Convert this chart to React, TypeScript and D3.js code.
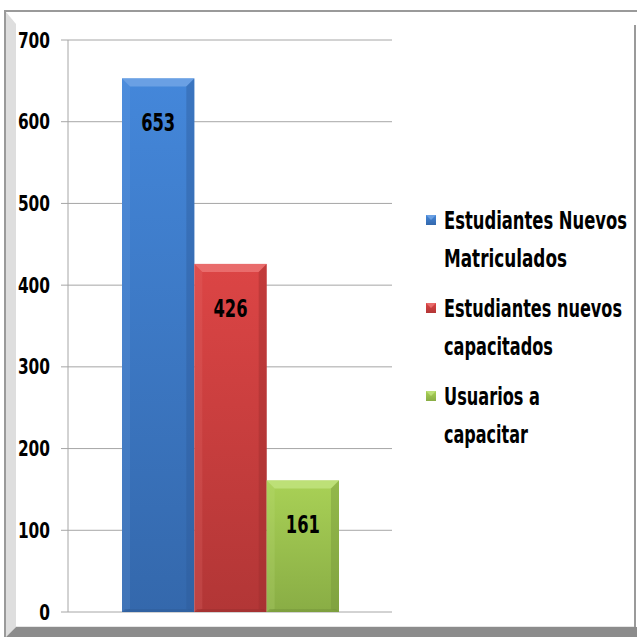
import React from 'react';
import * as d3 from 'd3';

const categories = ['Estudiantes Nuevos Matriculados', 'Estudiantes nuevos capacitados', 'Usuarios a capacitar'];
const values = [653, 426, 161];
const legendLines = [
  ['Estudiantes Nuevos', 'Matriculados'],
  ['Estudiantes nuevos', 'capacitados'],
  ['Usuarios a', 'capacitar'],
];
// widths of the legend lines as measured on the reference
const legendWidths = [
  [183, 123],
  [178, 109],
  [96, 84],
];
const yTicks = [0, 100, 200, 300, 400, 500, 600, 700];
const palette = [
  { top: '#4487da', bottom: '#3468ac', light: '#74a6e6', dark: '#2d5b98' },
  { top: '#dc4545', bottom: '#b23636', light: '#ec7676', dark: '#9a2d2d' },
  { top: '#a9d156', bottom: '#89ad45', light: '#c2e380', dark: '#74933a' },
];

const FONT = "'Liberation Sans Narrow', 'DejaVu Sans Condensed', 'Open Sans', sans-serif";

const App: React.FC = () => {
  const W = 637;
  const H = 637;
  const plot = { left: 68, right: 392, top: 40, bottom: 612 };

  const y = d3.scaleLinear().domain([0, 700]).range([plot.bottom, plot.top]);
  const x = d3.scaleBand<string>()
    .domain(categories)
    .range([122, 339])
    .paddingInner(0)
    .paddingOuter(0);

  const bev = 8;

  return (
    <svg width={W} height={H} style={{ position: 'absolute', left: 0, top: 0, background: '#fff' }}>
      <defs>
        {palette.map((p, i) => (
          <linearGradient key={i} id={`g${i}`} x1="0" y1="0" x2="0" y2="1">
            <stop offset="0%" stopColor={p.top} />
            <stop offset="100%" stopColor={p.bottom} />
          </linearGradient>
        ))}
      </defs>

      {/* frame */}
      <rect x={4} y={10} width={633} height={2} fill="#9a9a9a" />
      <rect x={4} y={10} width={2} height={627} fill="#9a9a9a" />
      <polygon points="6,12 16,24 16,627 6,637" fill="#dedede" />
      <polygon points="6,637 16,627 637,627 637,637" fill="#8c8c8c" />
      <rect x={16} y={626} width={618} height={1} fill="#e6e6e6" />
      <rect x={634} y={25} width={2} height={602} fill="#9a9a9a" />

      {/* gridlines and tick labels */}
      {yTicks.map(t => (
        <g key={t}>
          <line x1={61} x2={plot.right} y1={y(t)} y2={y(t)} stroke="#a6a6a6" strokeWidth={1} />
          <text x={50} y={y(t)} dy="0.36em" textAnchor="end" fontFamily={FONT}
            fontWeight="bold" fontSize={21} fill="#000"
            textLength={String(t).length * 10.7} lengthAdjust="spacingAndGlyphs">{t}</text>
        </g>
      ))}
      <line x1={plot.left} x2={plot.left} y1={plot.top} y2={plot.bottom} stroke="#a6a6a6" />

      {/* bars */}
      {categories.map((c, i) => {
        const x0 = x(c)!;
        const w = x.bandwidth();
        const y0 = y(values[i]);
        const y1 = y(0);
        const p = palette[i];
        return (
          <g key={c}>
            <rect x={x0} y={y0} width={w} height={y1 - y0} fill={`url(#g${i})`} />
            <polygon points={`${x0},${y0} ${x0 + w},${y0} ${x0 + w - bev},${y0 + bev} ${x0 + bev},${y0 + bev}`}
              fill={p.light} opacity={0.8} />
            <polygon points={`${x0},${y0} ${x0 + bev},${y0 + bev} ${x0 + bev},${y1 - 3} ${x0},${y1}`}
              fill={p.light} opacity={0.2} />
            <polygon points={`${x0 + w},${y0} ${x0 + w - bev},${y0 + bev} ${x0 + w - bev},${y1 - 3} ${x0 + w},${y1}`}
              fill={p.dark} opacity={0.4} />
            <polygon points={`${x0},${y1} ${x0 + w},${y1} ${x0 + w - 3},${y1 - 3} ${x0 + 3},${y1 - 3}`}
              fill={p.dark} opacity={0.5} />
            <text x={x0 + w / 2} y={y0 + 53} textAnchor="middle" fontFamily={FONT}
              fontWeight="bold" fontSize={25} fill="#000"
              textLength={34} lengthAdjust="spacingAndGlyphs">{values[i]}</text>
          </g>
        );
      })}

      {/* legend */}
      {legendLines.map((lines, i) => {
        const ly = 220 + i * 88;
        const p = palette[i];
        return (
          <g key={i}>
            <rect x={426} y={ly - 5} width={10} height={10} fill={`url(#g${i})`} />
            <polygon points={`426,${ly - 5} 436,${ly - 5} 431,${ly}`} fill={p.light} opacity={0.8} />
            {lines.map((ln, j) => (
              <text key={j} x={444} y={ly + j * 38} dy="0.36em" fontFamily={FONT}
                fontWeight="bold" fontSize={24} fill="#000"
                textLength={legendWidths[i][j]} lengthAdjust="spacingAndGlyphs">{ln}</text>
            ))}
          </g>
        );
      })}
    </svg>
  );
};

export default App;
